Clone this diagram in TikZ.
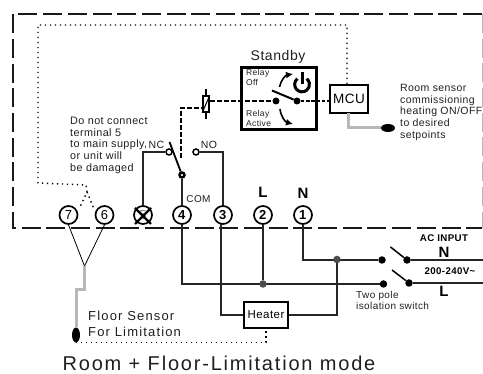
\documentclass[tikz,border=0pt]{standalone}
\usepackage{fontspec}
\setmainfont{Liberation Sans}[LetterSpace=4]
\newfontfamily\widefont{Liberation Sans}[LetterSpace=9]
\usetikzlibrary{arrows.meta,calc,shapes.geometric}
\definecolor{wiregray}{gray}{0.72}
\definecolor{textgray}{gray}{0.12}
\tikzset{
	terminal/.style={draw,circle,line width=1.7pt,minimum size=18pt,inner sep=0pt,font=\fontsize{13}{13}\selectfont},
	wire/.style={line width=1.5pt,black!85},
	thin wire/.style={line width=0.8pt},
	sensor wire/.style={line width=3pt,wiregray},
	dots/.style={line width=1.4pt,dash pattern=on 1.4pt off 3.6pt},
	relay dash/.style={line width=1.8pt,dash pattern=on 5pt off 2pt},
	contact/.style={draw,circle,fill=white,line width=1.5pt,minimum size=6pt,inner sep=0pt},
	blob/.style={circle,fill=black,minimum size=7.5pt,inner sep=0pt},
	label/.style={inner sep=0pt,align=left,anchor=north west,text=textgray},
	unit box/.style={draw,fill=white,line width=1.7pt,inner sep=0pt}
}
\begin{document}
\begin{tikzpicture}[x=1pt,y=-1pt]
	\useasboundingbox (0,0) rectangle (483,374);
	% enclosure
	\draw [line width=1.9pt,black!90,dash pattern=on 19pt off 5.7pt] (482,14) -- (13,14) -- (13,228) -- (482,228);
	\draw [line width=0.9pt,wiregray,dash pattern=on 19pt off 5.7pt] (482,14) -- (482,228);
	% terminals
	\node [terminal] (t7) at (68.5,215) {7};
	\node [terminal] (t6) at (104.5,215) {6};
	\node [terminal,text=gray] (t5) at (143,215) {5};
	\node [terminal] (t4) at (182,215) {\textbf{4}};
	\node [terminal] (t3) at (223,215) {\textbf{3}};
	\node [terminal] (t2) at (263,215) {\textbf{2}};
	\node [terminal] (t1) at (303,215) {\textbf{1}};
	\draw [line width=2.4pt] (135,208) -- (151,224) (151,208) -- (135,224);
	\node [font=\bfseries\fontsize{15}{15}\selectfont,inner sep=0pt] (lL) at (263,192) {L};
	\node [font=\bfseries\fontsize{15}{15}\selectfont,inner sep=0pt] (lN) at (303,193) {N};
	% relay
	\node [contact] (nc) at (169,152) {};
	\node [contact] (no) at (196,152) {};
	\node [contact] (com) at (182,175) {};
	\coordinate (arm) at (169.5,142);
	\draw [wire] (nc) -| (t5);
	\draw [wire] (no) -| (t3);
	\draw [wire] (com) -- (t4);
	\draw [line width=1.8pt] (arm) -- (com);
	\node [contact,minimum size=4pt] at (com) {};
	\node [inner sep=0pt,font=\fontsize{10.5}{10.5}\selectfont,text=textgray] (lnc) at (156.5,145) {NC};
	\node [inner sep=0pt,font=\fontsize{10.5}{10.5}\selectfont,text=textgray] (lno) at (209,145) {NO};
	\node [inner sep=0pt,font=\fontsize{10}{10}\selectfont,text=textgray] (lcom) at (198.5,199) {COM};
	% coil
	\node [draw,line width=1.6pt,minimum width=6pt,minimum height=16pt,inner sep=0pt] (coil) at (206,104) {};
	\draw [line width=1.6pt] (206,89) -- (coil.north) (coil.south) -- (206,119);
	\draw [line width=1pt] (coil.south west) -- (coil.north east);
	\coordinate (bend) at (181,108);
	\coordinate (relaytail) at (181,158);
	\draw [relay dash] (relaytail) -- (bend) -- (coil.west |- bend);
	% standby box
	\node [draw,line width=3pt,minimum width=75pt,minimum height=62pt,inner sep=0pt] (standby) at (279,98.5) {};
	\node [inner sep=0pt,font=\fontsize{14}{14}\selectfont,text=textgray] (lstandby) at (278,57) {Standby};
	\node [blob,minimum size=7pt] (sw1) at (276,101) {};
	\node [blob,minimum size=7pt] (sw2) at (297,101) {};
	\coordinate (swarm) at (272,90.5);
	\node [unit box,minimum width=38pt,minimum height=28pt,font=\fontsize{13.5}{13.5}\selectfont] (mcu) at (349,99) {MCU};
	\draw [relay dash] (coil.east |- sw1) -- (sw1);
	\draw [line width=1.7pt,dash pattern=on 3.5pt off 1.8pt] (sw2) -- (mcu.west |- sw2);
	\draw [line width=2pt] (swarm) -- (sw2);
	\node [label,font=\fontsize{8.5}{10.5}\selectfont] (loff) at (246,69) {Relay\\Off};
	\node [label,font=\fontsize{8.5}{10.5}\selectfont] (lact) at (246,110) {Relay\\Active};
	% power symbol
	\coordinate (pwr) at (302,84.5);
	\draw [line width=3pt] ($(pwr)+(-4.6,-5.8)$) arc (231:-51:7.4);
	\draw [line width=3pt] (pwr) -- ++(0,-12);
	\coordinate (offa) at (279.5,87);
	\coordinate (offb) at (293,74);
	\coordinate (acta) at (280,109);
	\coordinate (actb) at (293,124);
	\draw [line width=1.6pt,-{Latex[length=7pt,width=7pt]}] (offa) to[bend left=35] (offb);
	\draw [line width=1.6pt,-{Latex[length=7pt,width=7pt]}] (acta) to[bend right=35] (actb);
	% room sensor
	\node [ellipse,fill=black,minimum width=14pt,minimum height=8pt,inner sep=0pt] (room) at (388,128) {};
	\draw [sensor wire] (348,113) |- (room);
	\node [label,font=\fontsize{10.5}{11.7}\selectfont] (lroom) at (400,84) {Room sensor\\commissioning\\heating ON/OFF\\to desired\\setpoints};
	\node [label,font=\fontsize{10.8}{11.6}\selectfont] (lwarn) at (70,117) {Do not connect\\terminal 5\\to main supply,\\or unit will\\be damaged};
	% floor dotted link
	\coordinate (da) at (347,25);
	\coordinate (db) at (38,25);
	\coordinate (dc) at (38,183);
	\coordinate (dd) at (86,185);
	\coordinate (de) at (80,207);
	\coordinate (df) at (94,209);
	\draw [dots] (mcu.north -| da) -- (da) -- (db) -- (dc) -- (dd) -- (87,192) -- (de);
	\draw [dots] (87,192) -- (df);
	% floor sensor
	\coordinate (fork) at (84.5,266);
	\draw [thin wire] (t7.south) -- (fork);
	\draw [thin wire] (t6.south) -- (fork);
	\node [ellipse,fill=black,minimum width=8pt,minimum height=15pt,inner sep=0pt] (floor) at (76,335) {};
	\draw [sensor wire] (fork) -- (84.5,290) -- (76,290) -- (floor);
	\node [label,font=\widefont\fontsize{13}{15.5}\selectfont] (lfloor) at (88,311) {Floor Sensor\\For Limitation};
	% mains side
	\node [blob] (ln) at (382,260) {};
	\node [blob] (ll) at (383.5,284) {};
	\node [blob] (rn) at (407,260) {};
	\node [blob] (rl) at (409,283) {};
	\coordinate (an) at (390.5,247);
	\coordinate (al) at (392,270);
	\coordinate (en) at (483,260);
	\coordinate (el) at (483,283);
	\draw [line width=1.5pt] (an) -- (rn);
	\draw [line width=1.5pt] (al) -- (rl);
	\draw [wire] (rn) -- (en);
	\draw [wire] (rl) -- (el);
	\coordinate (corner4) at (182,284);
	\draw [wire] (t4) -- (corner4) -- (ll);
	\node [blob,fill=black!70] (j2) at (263,284) {};
	\draw [wire] (t2) -- (j2);
	\draw [wire] (t1) |- (ln);
	\node [blob,fill=black!70] (j1) at (337,259.5) {};
	\node [unit box,minimum width=44pt,minimum height=26pt,font=\fontsize{11.5}{11.5}\selectfont] (heater) at (266,315) {Heater};
	\draw [wire] (221,224) |- (heater.west);
	\draw [wire] (heater.east) -| (j1);
	\draw [dots] (floor.south) -| (heater.south);
	\node [inner sep=0pt,font=\bfseries\fontsize{9.7}{9.7}\selectfont] (lac) at (444,238) {AC INPUT};
	\node [inner sep=0pt,font=\bfseries\fontsize{15}{15}\selectfont] (lacn) at (444,252) {N};
	\node [inner sep=0pt,font=\bfseries\fontsize{9.7}{9.7}\selectfont] (lvolt) at (450,271) {200-240V\textasciitilde};
	\node [inner sep=0pt,font=\bfseries\fontsize{15}{15}\selectfont] (lacl) at (444,291) {L};
	\node [label,font=\fontsize{10}{10.8}\selectfont] (liso) at (356,291) {Two pole\\isolation switch};
	% caption
	\node [inner sep=0pt,font=\widefont\fontsize{20}{20}\selectfont,text=textgray] (lcap) at (219,363) {Room + Floor-Limitation mode};
\end{tikzpicture}
\end{document}
